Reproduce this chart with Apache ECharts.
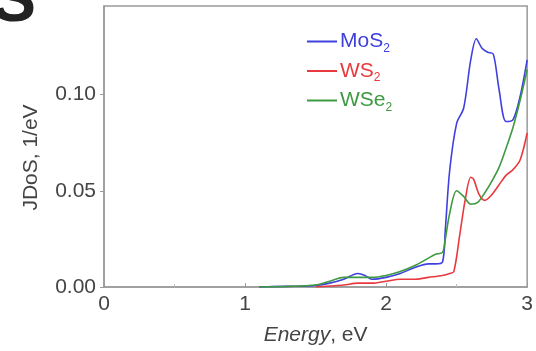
<!DOCTYPE html>
<html>
<head>
<meta charset="utf-8">
<script src="https://cdn.jsdelivr.net/npm/echarts@6/dist/echarts.min.js"></script>
<style>
  html, body { margin: 0; padding: 0; background: #fff; }
  #chart { width: 536px; height: 351px; }
</style>
</head>
<body>
<div id="chart"></div>
<script>
// JDoS curves
const mosE = [1.1, 1.2, 1.4, 1.5, 1.6, 1.7, 1.8, 1.85, 1.9, 2.0, 2.1, 2.2, 2.3, 2.35, 2.4, 2.42, 2.45, 2.5, 2.55, 2.6, 2.64, 2.68, 2.72, 2.76, 2.8, 2.85, 2.9, 2.95, 3.0];
const mosJ = [0, 0.0002, 0.0005, 0.0008, 0.002, 0.004, 0.007, 0.006, 0.004, 0.005, 0.007, 0.010, 0.012, 0.012, 0.013, 0.030, 0.060, 0.085, 0.093, 0.118, 0.129, 0.124, 0.122, 0.121, 0.103, 0.086, 0.087, 0.099, 0.118];

const wsE = [1.5, 1.6, 1.7, 1.8, 1.9, 2.0, 2.1, 2.2, 2.3, 2.4, 2.45, 2.48, 2.52, 2.56, 2.6, 2.62, 2.66, 2.7, 2.75, 2.8, 2.85, 2.9, 2.95, 3.0];
const wsJ = [0, 0.0005, 0.001, 0.002, 0.002, 0.003, 0.004, 0.004, 0.005, 0.006, 0.007, 0.008, 0.026, 0.045, 0.057, 0.056, 0.048, 0.045, 0.048, 0.053, 0.058, 0.061, 0.066, 0.080];

const wseE = [1.1, 1.3, 1.5, 1.6, 1.7, 1.8, 1.9, 2.0, 2.1, 2.2, 2.3, 2.35, 2.4, 2.42, 2.45, 2.5, 2.55, 2.6, 2.65, 2.7, 2.75, 2.8, 2.85, 2.9, 2.95, 3.0];
const wseJ = [0, 0.0003, 0.001, 0.003, 0.005, 0.005, 0.005, 0.006, 0.008, 0.011, 0.015, 0.017, 0.018, 0.025, 0.038, 0.050, 0.047, 0.043, 0.044, 0.049, 0.055, 0.062, 0.072, 0.083, 0.097, 0.113];

const names = ['MoS2', 'WS2', 'WSe2'];
const colors = ['#3f40de', '#e83a3e', '#3d9a40'];
const xTicks = [0, 1, 2, 3];
const yTicks = [0, 0.05, 0.10];

const chart = echarts.init(document.getElementById('chart'));

function pairs(xs, ys) {
	return xs.map((x, i) => [x, ys[i]]);
}

const seriesData = [pairs(mosE, mosJ), pairs(wsE, wsJ), pairs(wseE, wseJ)];

const options = {
	animation: false,
	textStyle: { fontFamily: 'Liberation Sans' },
	grid: {
		left: 104, right: 7, top: 6, bottom: 62,
		show: true, borderColor: '#9a9a9a', borderWidth: 1.5
	},
	graphic: [
		{
			// cut-off panel letter at the top left
			type: 'text', left: -8, top: -30,
			style: { text: 'S', font: 'bold 66px Liberation Sans', fill: '#222' }
		}
	],
	legend: {
		orient: 'vertical',
		left: 302, top: 26,
		itemWidth: 30, itemHeight: 2, itemGap: 6,
		icon: 'rect',
		data: names.map((n, i) => ({
			name: n,
			textStyle: {
				color: colors[i],
				rich: {
					b: { fontSize: 21, color: colors[i], fontFamily: 'Liberation Sans' },
					s: { fontSize: 12, color: colors[i], fontFamily: 'Liberation Sans', padding: [14, 0, 0, 0] }
				}
			}
		})),
		formatter: n => '{b|' + n.slice(0, -1) + '}{s|' + n.slice(-1) + '}',
		textStyle: { padding: [0, 0, 0, -2] }
	},
	xAxis: {
		type: 'value', min: 0, max: 3, interval: 1,
		name: '{i|Energy}, eV',
		nameLocation: 'middle', nameGap: 38,
		nameTextStyle: {
			fontSize: 21, color: '#444',
			rich: { i: { fontStyle: 'italic', fontSize: 21, color: '#444', fontFamily: 'Liberation Sans' } }
		},
		axisLine: { lineStyle: { color: '#9a9a9a', width: 1.5 } },
		axisTick: { inside: true, length: 4, lineStyle: { color: '#9a9a9a' } },
		minorTick: { show: true, splitNumber: 2, length: 3, lineStyle: { color: '#bbb' } },
		axisLabel: { fontSize: 21, color: '#444', margin: 7, formatter: v => xTicks.includes(v) ? String(v) : '' },
		splitLine: { show: false }
	},
	yAxis: {
		type: 'value', min: 0, max: 0.146, interval: 0.05,
		name: 'JDoS, 1/eV',
		nameLocation: 'middle', nameGap: 62,
		nameTextStyle: { fontSize: 21, color: '#444', padding: [0, 22, 0, 0] },
		axisLine: { show: true, lineStyle: { color: '#9a9a9a', width: 1.5 } },
		axisTick: { show: true, inside: false, length: 4, lineStyle: { color: '#9a9a9a' } },
		axisLabel: {
			fontSize: 21, color: '#444', margin: 8, showMaxLabel: false,
			formatter: v => yTicks.some(t => Math.abs(t - v) < 1e-9) ? v.toFixed(2) : ''
		},
		splitLine: { show: false }
	},
	series: names.map((n, i) => ({
		name: n,
		type: 'line',
		data: seriesData[i],
		smooth: 0.3,
		showSymbol: false,
		color: colors[i],
		lineStyle: { width: 1.6 }
	}))
};

chart.setOption(options);
</script>
</body>
</html>
